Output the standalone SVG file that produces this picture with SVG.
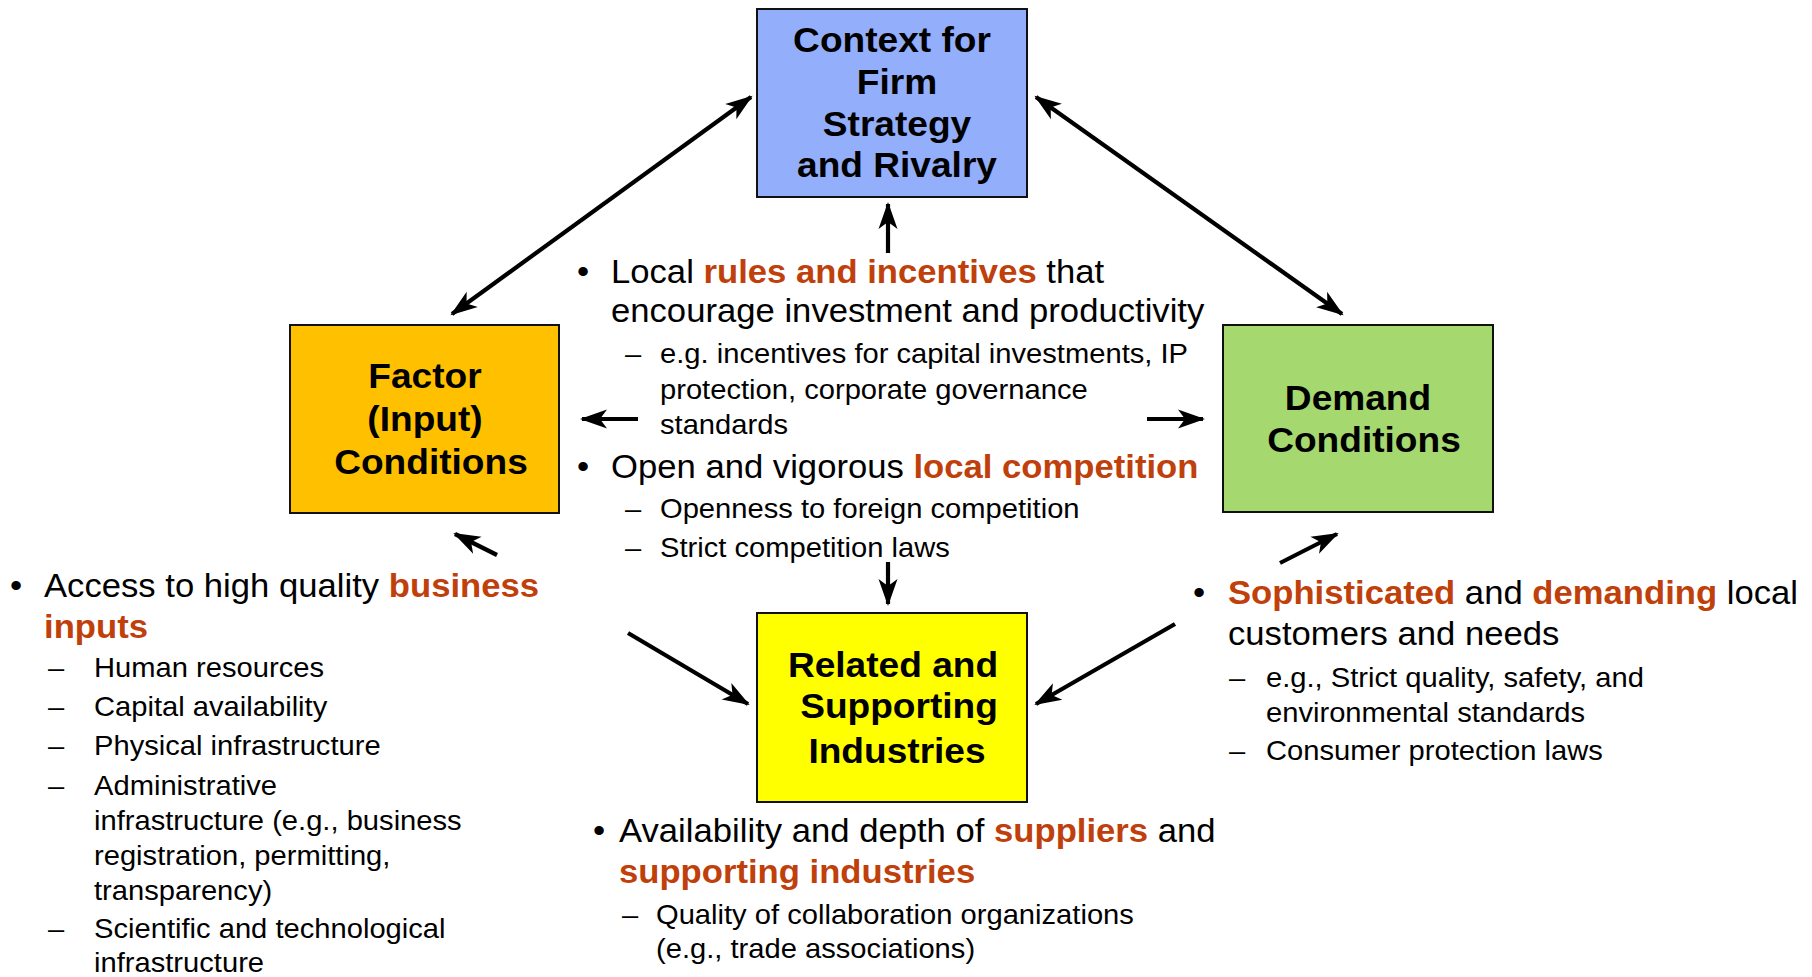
<svg xmlns="http://www.w3.org/2000/svg" width="1812" height="977" viewBox="0 0 1812 977">
<style>
text{font-family:"Liberation Sans",Arial,Helvetica,sans-serif;fill:#000}
.t{font-size:35px;font-weight:bold;text-anchor:middle}
.m{font-size:32.7px}
.s{font-size:27.5px}
.r{font-weight:bold;fill:#C0400C}
.box{stroke:#111;stroke-width:2}
.c line{stroke:#000;stroke-width:4.2;fill:none}
</style>
<defs>
<marker id="ah" markerUnits="userSpaceOnUse" markerWidth="32" markerHeight="26" viewBox="-28 -13 32 26" refX="0" refY="0" orient="auto-start-reverse">
<path d="M2,0 L-25,-9.5 L-18,0 L-25,9.5 Z" fill="#000"/>
</marker>
</defs>
<rect width="1812" height="977" fill="#fff"/>

<g id="connectors" class="c">
<line x1="452" y1="314" x2="751" y2="97" marker-start="url(#ah)" marker-end="url(#ah)"/>
<line x1="1036" y1="97" x2="1342" y2="314" marker-start="url(#ah)" marker-end="url(#ah)"/>
<line x1="888" y1="253" x2="888" y2="204" marker-end="url(#ah)"/>
<line x1="638" y1="419" x2="582" y2="419" marker-end="url(#ah)"/>
<line x1="1147" y1="419" x2="1203" y2="419" marker-end="url(#ah)"/>
<line x1="888" y1="562" x2="888" y2="604" marker-end="url(#ah)"/>
<line x1="497" y1="555" x2="455" y2="534" marker-end="url(#ah)"/>
<line x1="628" y1="633" x2="748" y2="704" marker-end="url(#ah)"/>
<line x1="1280" y1="563" x2="1337" y2="534" marker-end="url(#ah)"/>
<line x1="1175" y1="624" x2="1036" y2="704" marker-end="url(#ah)"/>
</g>

<g id="context">
<rect class="box" x="757" y="9" width="270" height="188" fill="#93AEFA"/>
<text class="t" transform="translate(892,52) scale(1.06,1)">Context for</text>
<text class="t" transform="translate(897,94) scale(1.06,1)">Firm</text>
<text class="t" transform="translate(897,136) scale(1.06,1)">Strategy</text>
<text class="t" transform="translate(897,177) scale(1.06,1)">and Rivalry</text>
</g>

<g id="factor">
<rect class="box" x="290" y="325" width="269" height="188" fill="#FFC000"/>
<text class="t" transform="translate(425,388) scale(1.06,1)">Factor</text>
<text class="t" transform="translate(425,431) scale(1.06,1)">(Input)</text>
<text class="t" transform="translate(431,474) scale(1.06,1)">Conditions</text>
</g>

<g id="demand">
<rect class="box" x="1223" y="325" width="270" height="187" fill="#A5D86F"/>
<text class="t" transform="translate(1358,410) scale(1.06,1)">Demand</text>
<text class="t" transform="translate(1364,452) scale(1.06,1)">Conditions</text>
</g>

<g id="related">
<rect class="box" x="757" y="613" width="270" height="189" fill="#FFFF00"/>
<text class="t" transform="translate(893,677) scale(1.06,1)">Related and</text>
<text class="t" transform="translate(899,718) scale(1.06,1)">Supporting</text>
<text class="t" transform="translate(897,763) scale(1.06,1)">Industries</text>
</g>

<g id="center-text">
<text class="m" transform="translate(577,283) scale(1.06,1)">•</text>
<text class="m" transform="translate(611,283) scale(1.06,1)">Local <tspan class="r">rules and incentives</tspan> that</text>
<text class="m" transform="translate(611,322) scale(1.06,1)">encourage investment and productivity</text>
<text class="s" transform="translate(625,363) scale(1.06,1)">–</text>
<text class="s" transform="translate(660,363) scale(1.06,1)">e.g. incentives for capital investments, IP</text>
<text class="s" transform="translate(660,399) scale(1.06,1)">protection, corporate governance</text>
<text class="s" transform="translate(660,434) scale(1.06,1)">standards</text>
<text class="m" transform="translate(577,478) scale(1.06,1)">•</text>
<text class="m" transform="translate(611,478) scale(1.06,1)">Open and vigorous <tspan class="r">local competition</tspan></text>
<text class="s" transform="translate(625,518) scale(1.06,1)">–</text>
<text class="s" transform="translate(660,518) scale(1.06,1)">Openness to foreign competition</text>
<text class="s" transform="translate(625,557) scale(1.06,1)">–</text>
<text class="s" transform="translate(660,557) scale(1.06,1)">Strict competition laws</text>
</g>

<g id="factor-text">
<text class="m" transform="translate(10,597) scale(1.06,1)">•</text>
<text class="m" transform="translate(44,597) scale(1.06,1)">Access to high quality <tspan class="r">business</tspan></text>
<text class="m r" transform="translate(44,638) scale(1.06,1)">inputs</text>
<text class="s" transform="translate(48,677) scale(1.06,1)">–</text>
<text class="s" transform="translate(94,677) scale(1.06,1)">Human resources</text>
<text class="s" transform="translate(48,716) scale(1.06,1)">–</text>
<text class="s" transform="translate(94,716) scale(1.06,1)">Capital availability</text>
<text class="s" transform="translate(48,755) scale(1.06,1)">–</text>
<text class="s" transform="translate(94,755) scale(1.06,1)">Physical infrastructure</text>
<text class="s" transform="translate(48,795) scale(1.06,1)">–</text>
<text class="s" transform="translate(94,795) scale(1.06,1)">Administrative</text>
<text class="s" transform="translate(94,830) scale(1.06,1)">infrastructure (e.g., business</text>
<text class="s" transform="translate(94,865) scale(1.06,1)">registration, permitting,</text>
<text class="s" transform="translate(94,900) scale(1.06,1)">transparency)</text>
<text class="s" transform="translate(48,938) scale(1.06,1)">–</text>
<text class="s" transform="translate(94,938) scale(1.06,1)">Scientific and technological</text>
<text class="s" transform="translate(94,972) scale(1.06,1)">infrastructure</text>
</g>

<g id="demand-text">
<text class="m" transform="translate(1193,604) scale(1.06,1)">•</text>
<text class="m" transform="translate(1228,604) scale(1.06,1)"><tspan class="r">Sophisticated</tspan> and <tspan class="r">demanding</tspan> local</text>
<text class="m" transform="translate(1228,645) scale(1.06,1)">customers and needs</text>
<text class="s" transform="translate(1229,687) scale(1.06,1)">–</text>
<text class="s" transform="translate(1266,687) scale(1.06,1)">e.g., Strict quality, safety, and</text>
<text class="s" transform="translate(1266,722) scale(1.06,1)">environmental standards</text>
<text class="s" transform="translate(1229,760) scale(1.06,1)">–</text>
<text class="s" transform="translate(1266,760) scale(1.06,1)">Consumer protection laws</text>
</g>

<g id="related-text">
<text class="m" transform="translate(593,842) scale(1.06,1)">•</text>
<text class="m" transform="translate(619,842) scale(1.06,1)">Availability and depth of <tspan class="r">suppliers</tspan> and</text>
<text class="m r" transform="translate(619,883) scale(1.06,1)">supporting industries</text>
<text class="s" transform="translate(622,924) scale(1.06,1)">–</text>
<text class="s" transform="translate(656,924) scale(1.06,1)">Quality of collaboration organizations</text>
<text class="s" transform="translate(656,958) scale(1.06,1)">(e.g., trade associations)</text>
</g>
</svg>
